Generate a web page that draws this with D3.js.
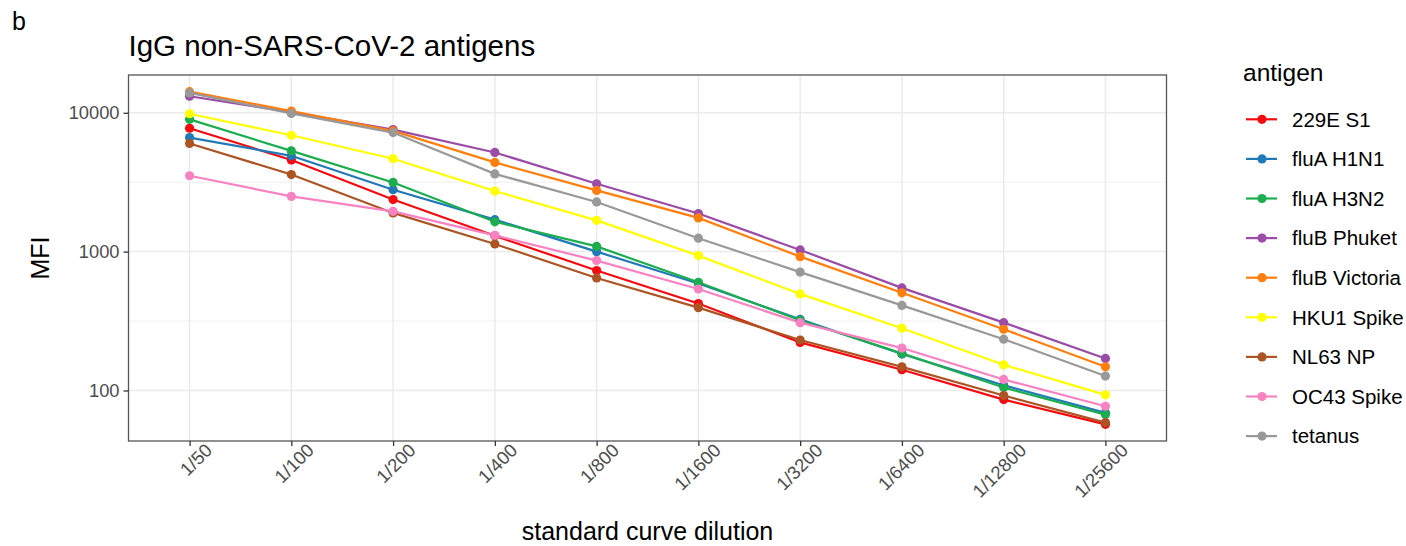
<!DOCTYPE html>
<html>
<head>
<meta charset="utf-8">
<script src="https://cdn.jsdelivr.net/npm/d3@7"></script>
<style>
  body { margin: 0; background: #fff; }
  text { font-family: "Liberation Sans", Arial, sans-serif; }
</style>
</head>
<body>
<svg id="chart"></svg>
<script>
// dilution steps (x categories)
var dilutions = ["1/50", "1/100", "1/200", "1/400", "1/800", "1/1600", "1/3200", "1/6400", "1/12800", "1/25600"];

// MFI per antigen
var e229S1      = [7740, 4570, 2370, 1300, 731, 423, 222, 141, 86, 57];
var fluAH1N1    = [6630, 4900, 2790, 1700, 1000, 590, 325, 183, 109, 69];
var fluAH3N2    = [8970, 5320, 3150, 1640, 1090, 601, 320, 185, 105, 67];
var fluBPhuket  = [13160, 10100, 7570, 5180, 3080, 1880, 1028, 548, 308, 170];
var fluBVictoria= [14200, 10300, 7400, 4390, 2760, 1750, 920, 505, 276, 148];
var hku1Spike   = [9840, 6890, 4670, 2730, 1680, 936, 496, 281, 153, 93];
var nl63NP      = [6010, 3590, 1900, 1135, 646, 395, 231, 148, 92, 58.7];
var oc43Spike   = [3520, 2500, 1950, 1310, 862, 538, 308, 202, 120, 77];
var tetanus     = [13900, 9900, 7200, 3630, 2280, 1250, 712, 410, 234, 127];

var antigens = ["229E S1", "fluA H1N1", "fluA H3N2", "fluB Phuket", "fluB Victoria", "HKU1 Spike", "NL63 NP", "OC43 Spike", "tetanus"];
var seriesValues = [e229S1, fluAH1N1, fluAH3N2, fluBPhuket, fluBVictoria, hku1Spike, nl63NP, oc43Spike, tetanus];
var colors = ["#F50A10", "#2179B8", "#1CAE4E", "#9A4CA6", "#FF7F0E", "#FFFF00", "#AD5424", "#F882C2", "#999999"];

var yMajor = [100, 1000, 10000];
var yMinor = [316.2278, 3162.278];

var w = 1406;
var h = 546;
var panel = { left: 128.5, right: 1166.5, top: 75, bottom: 441 };

var series = antigens.map(function(name, i) {
    return {
        name: name,
        color: colors[i],
        values: seriesValues[i].map(function(v, j) {
            return { dil: dilutions[j], value: v };
        })
    };
});

var x = d3.scalePoint()
        .domain(dilutions)
        .range([panel.left, panel.right])
        .padding(0.6);

// log axis with ggplot-style 5% expansion
var all = d3.merge(seriesValues);
var lo = Math.log10(d3.min(all)), hi = Math.log10(d3.max(all));
var pad = (hi - lo) * 0.05;
var y = d3.scaleLog()
        .domain([Math.pow(10, lo - pad), Math.pow(10, hi + pad)])
        .range([panel.bottom, panel.top]);

var svg = d3.select("#chart")
            .attr("width", w)
            .attr("height", h);

// grid
var grid = svg.append("g");
grid.selectAll(".minor")
    .data(yMinor)
    .enter()
        .append("line")
        .attr("x1", panel.left).attr("x2", panel.right)
        .attr("y1", function(d) { return y(d); })
        .attr("y2", function(d) { return y(d); })
        .attr("stroke", "#EBEBEB")
        .attr("stroke-width", 0.8);
grid.selectAll(".major")
    .data(yMajor)
    .enter()
        .append("line")
        .attr("x1", panel.left).attr("x2", panel.right)
        .attr("y1", function(d) { return y(d); })
        .attr("y2", function(d) { return y(d); })
        .attr("stroke", "#EBEBEB")
        .attr("stroke-width", 1.5);
grid.selectAll(".vmajor")
    .data(dilutions)
    .enter()
        .append("line")
        .attr("y1", panel.top).attr("y2", panel.bottom)
        .attr("x1", function(d) { return x(d); })
        .attr("x2", function(d) { return x(d); })
        .attr("stroke", "#EBEBEB")
        .attr("stroke-width", 1.5);

// lines then points
var line = d3.line()
        .x(function(d) { return x(d.dil); })
        .y(function(d) { return y(d.value); });

svg.append("g").selectAll("path")
    .data(series)
    .enter()
        .append("path")
        .attr("d", function(d) { return line(d.values); })
        .attr("fill", "none")
        .attr("stroke", function(d) { return d.color; })
        .attr("stroke-width", 2.2);

series.forEach(function(s) {
    svg.append("g").selectAll("circle")
        .data(s.values)
        .enter()
            .append("circle")
            .attr("cx", function(d) { return x(d.dil); })
            .attr("cy", function(d) { return y(d.value); })
            .attr("r", 4.6)
            .attr("fill", s.color);
});

// panel border
svg.append("rect")
    .attr("x", panel.left).attr("y", panel.top)
    .attr("width", panel.right - panel.left)
    .attr("height", panel.bottom - panel.top)
    .attr("fill", "none")
    .attr("stroke", "#555")
    .attr("stroke-width", 1.3);

// y axis
var yAxis = d3.axisLeft(y)
        .tickValues(yMajor)
        .tickFormat(d3.format("d"))
        .tickSize(5)
        .tickPadding(4);
var gy = svg.append("g")
        .attr("transform", "translate(" + panel.left + ",0)")
        .call(yAxis);
gy.select(".domain").remove();
gy.selectAll(".tick line").attr("stroke", "#333").attr("stroke-width", 1.3);
gy.selectAll(".tick text")
    .attr("fill", "#4D4D4D")
    .style("font-size", "18.3px")
    .style("font-family", "Liberation Sans, Arial, sans-serif");

// x axis
var xAxis = d3.axisBottom(x)
        .tickSize(5)
        .tickPadding(4);
var gx = svg.append("g")
        .attr("transform", "translate(0," + panel.bottom + ")")
        .call(xAxis);
gx.select(".domain").remove();
gx.selectAll(".tick line").attr("stroke", "#333").attr("stroke-width", 1.3);
gx.selectAll(".tick text")
    .attr("fill", "#4D4D4D")
    .style("font-size", "18.5px")
    .style("font-family", "Liberation Sans, Arial, sans-serif")
    .attr("text-anchor", "end")
    .attr("x", 9)
    .attr("y", 10)
    .attr("dy", "0.75em")
    .attr("transform", "rotate(-45)");

// titles
svg.append("text")
    .attr("x", 12).attr("y", 30)
    .style("font-size", "25px")
    .text("b");
svg.append("text")
    .attr("x", panel.left).attr("y", 56)
    .style("font-size", "29.5px")
    .text("IgG non-SARS-CoV-2 antigens");
svg.append("text")
    .attr("x", (panel.left + panel.right) / 2).attr("y", 540)
    .attr("text-anchor", "middle")
    .style("font-size", "25px")
    .text("standard curve dilution");
svg.append("text")
    .attr("transform", "translate(49," + ((panel.top + panel.bottom) / 2) + ") rotate(-90)")
    .attr("text-anchor", "middle")
    .style("font-size", "25px")
    .text("MFI");

// legend
var legend = svg.append("g").attr("transform", "translate(1230,0)");
legend.append("text")
    .attr("x", 13).attr("y", 81)
    .style("font-size", "24.5px")
    .text("antigen");
var item = legend.selectAll(".item")
    .data(series)
    .enter()
        .append("g")
        .attr("transform", function(d, i) { return "translate(0," + (119.3 + i * 39.6) + ")"; });
item.append("line")
    .attr("x1", 16).attr("x2", 47)
    .attr("stroke", function(d) { return d.color; })
    .attr("stroke-width", 2.2);
item.append("circle")
    .attr("cx", 32).attr("r", 4.6)
    .attr("fill", function(d) { return d.color; });
item.append("text")
    .attr("x", 62).attr("dy", "0.36em")
    .style("font-size", "20.5px")
    .text(function(d) { return d.name; });
</script>
</body>
</html>
